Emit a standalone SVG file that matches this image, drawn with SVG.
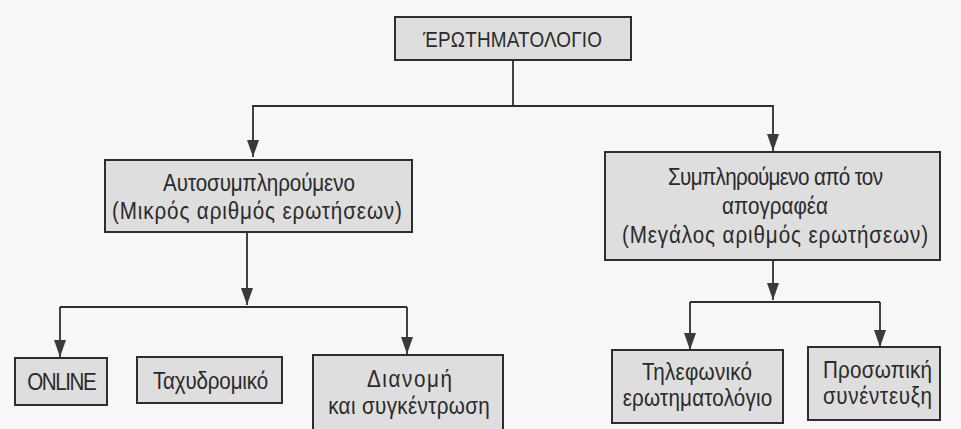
<svg xmlns="http://www.w3.org/2000/svg" width="961" height="429" viewBox="0 0 961 429">
<style>
.box{fill:#dedede;stroke:#2e2e2e;stroke-width:2}
.t{font-family:"Liberation Sans",Arial,sans-serif;font-size:24px;fill:#2a2a2a;text-anchor:middle}
.h{font-size:22px}
.c{fill:none;stroke:#2e2e2e;stroke-width:1.8}
</style>
<defs>
<marker id="ah" viewBox="0 0 17 12" refX="17" refY="6" markerWidth="17" markerHeight="12" markerUnits="userSpaceOnUse" orient="auto">
<path d="M0,0 L17,6 L0,12 z" fill="#3a3a3a"/>
</marker>
</defs>
<rect width="961" height="429" fill="#f7f7f7"/>
<g id="connectors">
<path class="c" d="M513,60 V106 H253 V157" marker-end="url(#ah)"/>
<path class="c" d="M513,106 H773 V151" marker-end="url(#ah)"/>
<path class="c" d="M247,232 V305" marker-end="url(#ah)"/>
<path class="c" d="M60,307 H407"/>
<path class="c" d="M60,307 V357" marker-end="url(#ah)"/>
<path class="c" d="M407,307 V354" marker-end="url(#ah)"/>
<path class="c" d="M773,260 V300" marker-end="url(#ah)"/>
<path class="c" d="M690,302 H880"/>
<path class="c" d="M690,302 V350" marker-end="url(#ah)"/>
<path class="c" d="M880,302 V347" marker-end="url(#ah)"/>
</g>
<g id="n-root">
<rect class="box" x="395" y="17" width="236" height="43"/>
<text class="t h" transform="translate(512.5,47) scale(0.86,1)" textLength="208">ΈΡΩΤΗΜΑΤΟΛΟΓΙΟ</text>
</g>
<g id="n-self">
<rect class="box" x="105" y="160" width="307" height="72"/>
<text class="t" transform="translate(259,191) scale(0.86,1)" textLength="223">Αυτοσυμπληρούμενο</text>
<text class="t" transform="translate(257,219) scale(0.86,1)" textLength="337">(Μικρός αριθμός ερωτήσεων)</text>
</g>
<g id="n-interviewer">
<rect class="box" x="605" y="152" width="335" height="108"/>
<text class="t" transform="translate(775.5,185) scale(0.86,1)" textLength="250">Συμπληρούμενο από τον</text>
<text class="t" transform="translate(775,214) scale(0.86,1)" textLength="123">απογραφέα</text>
<text class="t" transform="translate(775,243) scale(0.86,1)" textLength="356">(Μεγάλος αριθμός ερωτήσεων)</text>
</g>
<g id="n-online">
<rect class="box" x="15" y="358" width="92" height="47"/>
<text class="t" transform="translate(62,390) scale(0.86,1)" textLength="81">ONLINE</text>
</g>
<g id="n-post">
<rect class="box" x="137" y="357" width="145" height="46"/>
<text class="t" transform="translate(210.5,389) scale(0.86,1)" textLength="134">Ταχυδρομικό</text>
</g>
<g id="n-dist">
<rect class="box" x="313" y="355" width="190" height="80"/>
<text class="t" transform="translate(409.5,387) scale(0.86,1)" textLength="99">Διανομή</text>
<text class="t" transform="translate(409,414) scale(0.86,1)" textLength="188">και συγκέντρωση</text>
</g>
<g id="n-phone">
<rect class="box" x="612" y="350" width="171" height="73"/>
<text class="t" transform="translate(697,380) scale(0.86,1)" textLength="128">Τηλεφωνικό</text>
<text class="t" transform="translate(697.5,406) scale(0.86,1)" textLength="174">ερωτηματολόγιο</text>
</g>
<g id="n-personal">
<rect class="box" x="808" y="347" width="132" height="73"/>
<text class="t" transform="translate(877.5,378) scale(0.86,1)" textLength="127">Προσωπική</text>
<text class="t" transform="translate(877.5,404) scale(0.86,1)" textLength="127">συνέντευξη</text>
</g>
</svg>
